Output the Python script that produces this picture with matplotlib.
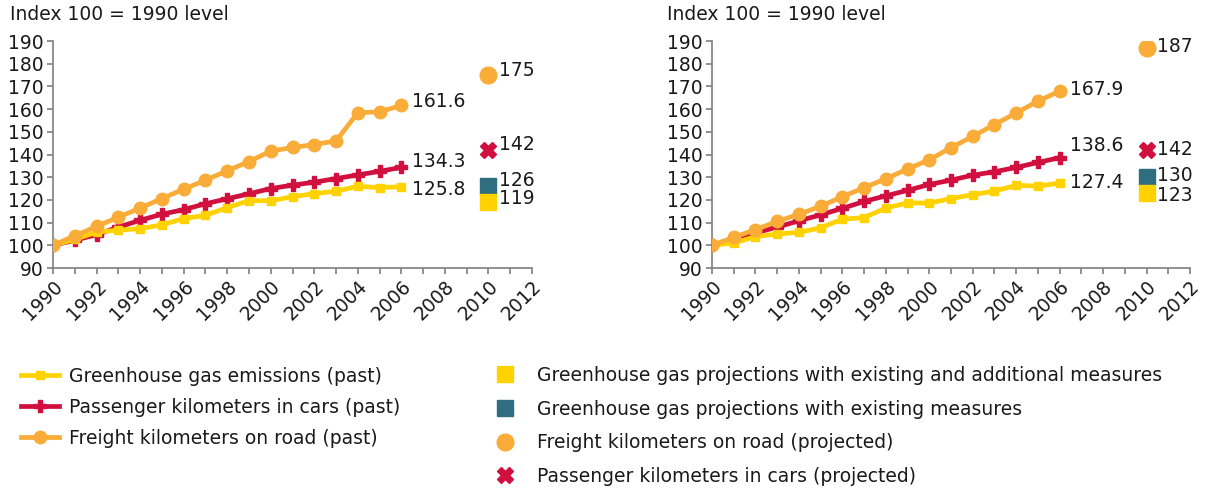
import matplotlib
matplotlib.use("Agg")
import matplotlib.pyplot as plt
from matplotlib.lines import Line2D

plt.rcParams['font.family'] = ['DejaVu Sans']

# ---------------- data ----------------
years = list(range(1990, 2007))
proj_year = 2010

left_ghg = [100, 102.6, 105.8, 106.7, 107.3, 109.0, 111.8, 113.2, 116.6, 119.7,
            119.6, 121.4, 122.8, 123.8, 126.0, 125.4, 125.8]
left_pkm = [100, 102.2, 104.7, 108.0, 111.0, 113.7, 115.7, 118.3, 120.5, 122.7,
            125.0, 126.5, 127.8, 129.4, 131.0, 132.6, 134.3]
left_fkm = [100, 104.2, 108.3, 112.4, 116.4, 120.6, 124.7, 128.7, 132.8, 136.9,
            141.5, 143.1, 144.4, 146.0, 158.4, 158.8, 161.6]
left_proj_fkm = 175
left_proj_pkm = 142
left_proj_wem = 126
left_proj_wam = 119

right_ghg = [100, 101.0, 103.8, 105.0, 105.7, 107.7, 111.5, 112.2, 116.4, 118.7,
             118.6, 120.6, 122.3, 123.9, 126.4, 126.1, 127.4]
right_pkm = [100, 102.6, 105.5, 108.0, 110.8, 113.4, 116.3, 119.3, 121.8, 124.2,
             126.8, 128.7, 130.9, 132.4, 134.3, 136.5, 138.6]
right_fkm = [100, 103.5, 106.9, 110.5, 113.7, 117.2, 121.4, 125.4, 129.3, 133.6,
             137.7, 143.0, 148.0, 153.2, 158.3, 163.5, 167.9]
right_proj_fkm = 187
right_proj_pkm = 142
right_proj_wem = 130
right_proj_wam = 123

ylabel_text = "Index 100 = 1990 level"
legend_left = ["Greenhouse gas emissions (past)",
               "Passenger kilometers in cars (past)",
               "Freight kilometers on road (past)"]
legend_right = ["Greenhouse gas projections with existing and additional measures",
                "Greenhouse gas projections with existing measures",
                "Freight kilometers on road (projected)",
                "Passenger kilometers in cars (projected)"]

# ---------------- style ----------------
C_YEL = "#FFD200"
C_RED = "#D2103F"
C_ORA = "#F9AC38"
C_TEAL = "#2F6D80"
C_AX = "#7F7F7F"
C_TXT = "#1a1a1a"
FS = 13.5

W, H = 1207, 488
fig = plt.figure(figsize=(W / 100, H / 100), dpi=100)


def make_axes(x0, x1):
    y_top, y_bot = 41, 268
    return fig.add_axes([x0 / W, 1 - y_bot / H, (x1 - x0) / W, (y_bot - y_top) / H])


def draw_panel(ax, ghg, pkm, fkm, p_fkm, p_pkm, p_wem, p_wam, offs):
    ax.plot(years, pkm, color=C_RED, lw=3.4, marker='P', ms=9,
            mec=C_RED, zorder=3, solid_joinstyle='round')
    ax.plot(years, ghg, color=C_YEL, lw=3.4, marker='s', ms=6,
            zorder=4, solid_joinstyle='round')
    ax.plot(years, fkm, color=C_ORA, lw=3.4, marker='o', ms=9,
            zorder=5, solid_joinstyle='round')
    ax.plot([proj_year], [p_fkm], ls='none', marker='o', ms=12, color=C_ORA, zorder=6)
    ax.plot([proj_year], [p_pkm], ls='none', marker='X', ms=12, color=C_RED,
            mec=C_RED, zorder=6)
    ax.plot([proj_year], [p_wem], ls='none', marker='s', ms=11, color=C_TEAL, zorder=6)
    ax.plot([proj_year], [p_wam], ls='none', marker='s', ms=11, color=C_YEL, zorder=6)

    # value labels
    xl = years[-1] + 0.5
    xp = proj_year + 0.5
    for x, v, o, fmt in [(xl, fkm[-1], offs[0], "{:.1f}"), (xl, pkm[-1], offs[1], "{:.1f}"),
                         (xl, ghg[-1], offs[2], "{:.1f}"),
                         (xp, p_fkm, offs[3], "{:d}"), (xp, p_pkm, offs[4], "{:d}"),
                         (xp, p_wem, offs[5], "{:d}"), (xp, p_wam, offs[6], "{:d}")]:
        ax.text(x, v + o, fmt.format(v), fontsize=FS, ha='left', va='center', color=C_TXT)

    ax.set_xlim(1990, 2012)
    ax.set_ylim(90, 190)
    ax.set_yticks(range(90, 191, 10))
    ax.set_xticks(range(1990, 2013, 2))
    ax.set_xticks(range(1990, 2013, 1), minor=True)
    ax.set_xticklabels([str(y) for y in range(1990, 2013, 2)], rotation=45,
                       ha='right', rotation_mode='anchor')
    for s in ['top', 'right']:
        ax.spines[s].set_visible(False)
    for s in ['left', 'bottom']:
        ax.spines[s].set_color(C_AX)
        ax.spines[s].set_linewidth(1.2)
    ax.tick_params(axis='both', which='both', color=C_AX, labelsize=FS, labelcolor=C_TXT)
    ax.tick_params(axis='x', which='both', length=4, width=1.2, pad=2)
    ax.tick_params(axis='y', length=4, width=1.2, pad=3)
    ax.patch.set_alpha(0)


axL = make_axes(53, 532)
draw_panel(axL, left_ghg, left_pkm, left_fkm, left_proj_fkm, left_proj_pkm,
           left_proj_wem, left_proj_wam, [1.8, 2.4, -1.3, 2.0, 2.4, 2.6, 1.6])
axR = make_axes(712, 1190)
draw_panel(axR, right_ghg, right_pkm, right_fkm, right_proj_fkm, right_proj_pkm,
           right_proj_wem, right_proj_wam, [0.7, 5.5, 0.3, 0.6, 0.2, 0.6, -0.9])

fig.text(10 / W, 1 - 15 / H, ylabel_text, fontsize=FS, ha='left', va='center', color=C_TXT)
fig.text(667 / W, 1 - 15 / H, ylabel_text, fontsize=FS, ha='left', va='center', color=C_TXT)

# legends
hl = [Line2D([], [], color=C_YEL, lw=3.4, marker='s', ms=6),
      Line2D([], [], color=C_RED, lw=3.4, marker='P', ms=9),
      Line2D([], [], color=C_ORA, lw=3.4, marker='o', ms=9)]
leg1 = fig.legend(hl, legend_left, loc='upper left', bbox_to_anchor=(21 / W, 1 - 367 / H),
                  frameon=False, fontsize=FS, handlelength=2.0, handletextpad=0.55,
                  labelspacing=0.64, borderaxespad=0, borderpad=0)
hr = [Line2D([], [], ls='none', color=C_YEL, marker='s', ms=11),
      Line2D([], [], ls='none', color=C_TEAL, marker='s', ms=11),
      Line2D([], [], ls='none', color=C_ORA, marker='o', ms=12),
      Line2D([], [], ls='none', color=C_RED, marker='X', ms=11)]
leg2 = fig.legend(hr, legend_right, loc='upper left', bbox_to_anchor=(492 / W, 1 - 366 / H),
                  frameon=False, fontsize=FS, handlelength=1.4, handletextpad=1.0,
                  labelspacing=0.78, borderaxespad=0, borderpad=0)
for t in leg1.get_texts() + leg2.get_texts():
    t.set_color(C_TXT)

fig.savefig("out.png", dpi=100)
